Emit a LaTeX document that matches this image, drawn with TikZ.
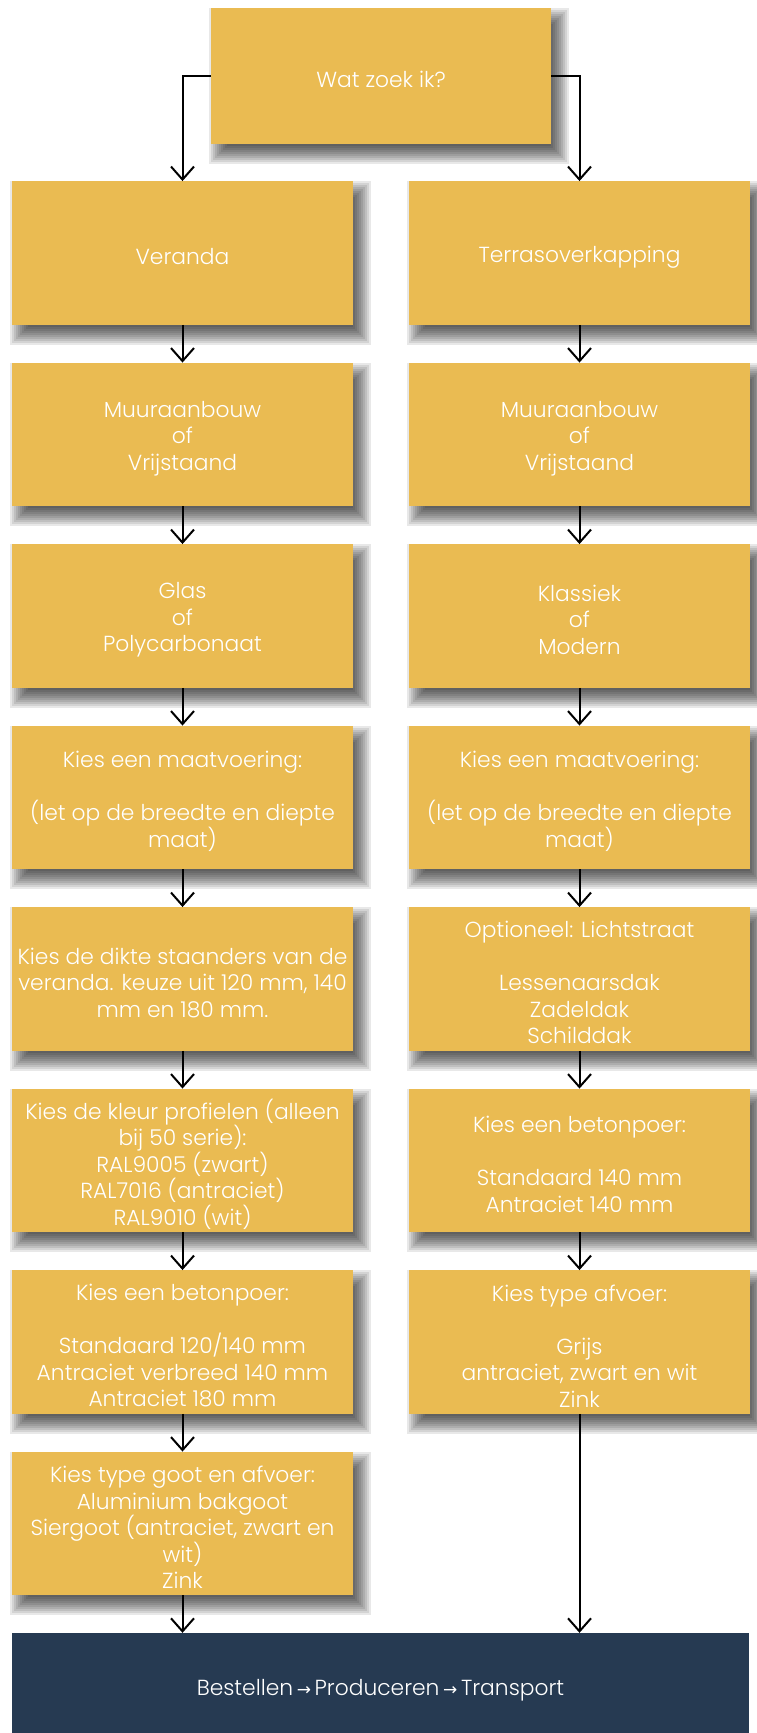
\documentclass[tikz,border=0pt]{standalone}
\usepackage{fontspec}
\setmainfont{Poppins}[UprightFont=* Light]
\newfontfamily\arrowfont{DejaVu Sans}
\usetikzlibrary{arrows.meta,calc}
\pgfdeclarelayer{bg}
\pgfsetlayers{bg,main}
\definecolor{boxyellow}{RGB}{234,187,82}
\definecolor{navy}{RGB}{38,58,82}
\tikzset{
  box/.style={fill=boxyellow, minimum width=341pt, minimum height=143.5pt, inner sep=0pt},
  txt/.style={text=white, align=center, inner sep=0pt, font=\fontsize{21.8}{26.5}\selectfont},
  shadowlayer/.style={fill=black, opacity=0.09},
  conn/.style={draw=black, line width=2pt, -{Straight Barb[length=13pt,width=23pt,line width=2pt]}},
}
\newcommand\bx[4][]{\node[box,#1] (#2) at (#3) {};
  \node[txt] (#2t) at ([yshift=-3.8pt]#2.center) {#4};
  \begin{pgfonlayer}{bg}
  \foreach \e in {-10,-8,...,10}{
    \fill[shadowlayer] ($(#2.north west)+(8-\e,10-\e)$) rectangle ($(#2.south east)+(8+\e,10+\e)$);
  }
  \end{pgfonlayer}}
\begin{document}
\begin{tikzpicture}[x=1pt,y=-1pt]
\begin{pgfonlayer}{bg}
\fill[white] (0,0) rectangle (757,1733);
\end{pgfonlayer}
\clip (0,0) rectangle (757,1733);
\bx[minimum width=340pt, minimum height=136pt]{top}{381,76}{Wat zoek ik?}
% left column
\bx{l1}{182.5,253}{Veranda}
\bx{l2}{182.5,434.5}{Muuraanbouw\\of\\Vrijstaand}
\bx{l3}{182.5,616}{Glas\\of\\Polycarbonaat}
\bx{l4}{182.5,797.5}{Kies een maatvoering:\\[26.5pt](let op de breedte en diepte\\maat)}
\bx{l5}{182.5,979}{Kies de dikte staanders van de\\veranda. keuze uit 120 mm, 140\\mm en 180 mm.}
\bx{l6}{182.5,1160.5}{Kies de kleur profielen (alleen\\bij 50 serie):\\RAL9005 (zwart)\\RAL7016 (antraciet)\\RAL9010 (wit)}
\bx{l7}{182.5,1342}{Kies een betonpoer:\\[26.5pt]Standaard 120/140 mm\\Antraciet verbreed 140 mm\\Antraciet 180 mm}
\bx{l8}{182.5,1523.5}{Kies type goot en afvoer:\\Aluminium bakgoot\\Siergoot (antraciet, zwart en\\wit)\\Zink}
% right column
\bx{r1}{579.5,253}{Terrasoverkapping}
\bx{r2}{579.5,434.5}{Muuraanbouw\\of\\Vrijstaand}
\bx{r3}{579.5,616}{Klassiek\\of\\Modern}
\bx{r4}{579.5,797.5}{Kies een maatvoering:\\[26.5pt](let op de breedte en diepte\\maat)}
\bx{r5}{579.5,979}{Optioneel: Lichtstraat\\[26.5pt]Lessenaarsdak\\Zadeldak\\Schilddak}
\bx{r6}{579.5,1160.5}{Kies een betonpoer:\\[26.5pt]Standaard 140 mm\\Antraciet 140 mm}
\bx{r7}{579.5,1342}{Kies type afvoer:\\[26.5pt]Grijs\\antraciet, zwart en wit\\Zink}
% bottom
\node[fill=navy, minimum width=737pt, minimum height=114pt, inner sep=0pt] (bot) at (380.5,1690) {};
\node[txt] (bott) at (bot.center)
  {Bestellen\,{\arrowfont\fontsize{17}{17}\selectfont →}\,Produceren\,{\arrowfont\fontsize{17}{17}\selectfont →}\,Transport};
% connectors
\draw[conn] (top.west) -| (l1.north);
\draw[conn] (top.east) -| (r1.north);
\foreach \a/\b in {l1/l2,l2/l3,l3/l4,l4/l5,l5/l6,l6/l7,l7/l8,r1/r2,r2/r3,r3/r4,r4/r5,r5/r6,r6/r7}{
  \draw[conn] (\a.south) -- (\b.north);
}
\draw[conn] (l8.south) -- (l8.south |- bot.north);
\draw[conn] (r7.south) -- (r7.south |- bot.north);
\end{tikzpicture}
\end{document}
